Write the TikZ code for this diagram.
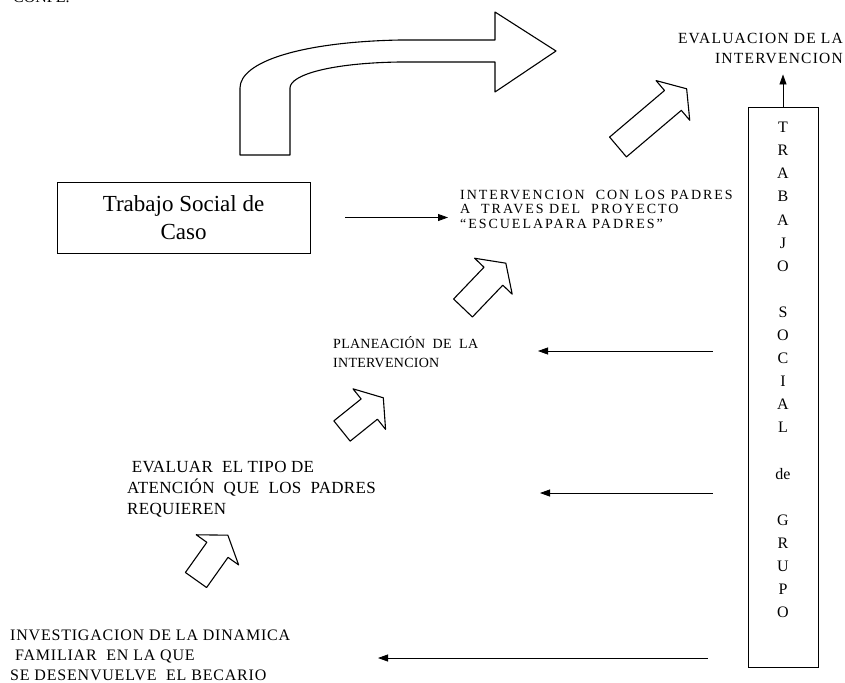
\documentclass[tikz,border=0pt]{standalone}
\usepackage{fontspec}
\setmainfont{Liberation Serif}
\usetikzlibrary{arrows.meta}

\begin{document}
\begin{tikzpicture}[x=1pt, y=-1pt,
    txt/.style={inner sep=0pt, align=left, anchor=west},
    arr/.style={line width=0.8pt, -{Triangle[length=10pt,width=7pt]}},
    hollowline/.style={line width=1.1pt, line join=round},
    pics/hollow/.style={code={
      \draw[hollowline] (0,-13) -- ({#1-18},-13) -- ({#1-18},-26) -- (#1,0)
        -- ({#1-18},26) -- ({#1-18},13) -- (0,13) -- cycle;}}]

    \useasboundingbox (0,0) rectangle (845,682);

    \node[anchor=base west, inner sep=0pt, font=\fontsize{16}{20}\selectfont] (conpe) at (13,3) {CONPE.};

    % big bent arrow
    \draw[hollowline] (240,155) -- (240,88) .. controls (240,62) and (300,42) .. (400,40)
      -- (495,40) -- (495,12) -- (556,51) -- (495,92) -- (495,62) -- (400,62)
      .. controls (330,63) and (290,75) .. (290,88) -- (290,155) -- cycle;

    \node[draw, line width=0.9pt, minimum width=253pt, minimum height=71pt, align=center,
      font=\fontsize{23}{28}\selectfont] (caso) at (183.5,217.5) {Trabajo Social de\\Caso};

    \node[draw, line width=0.9pt, minimum width=70pt, minimum height=560pt] (grupo) at (783,387) {};
    \node[inner sep=0pt, align=center, font=\fontsize{16}{23.1}\selectfont] (grupotxt) at (783,370)
      {T\\R\\A\\B\\A\\J\\O\\~\\S\\O\\C\\I\\A\\L\\~\\de\\~\\G\\R\\U\\P\\O};

    \node[txt, align=right, anchor=east, font=\fontsize{15.5}{20}\selectfont\addfontfeature{LetterSpace=8}]
      (evalint) at (843,48) {EVALUACION DE LA\\INTERVENCION};
    \node[txt, font=\fontsize{14}{14.5}\selectfont\addfontfeature{LetterSpace=14}] (interv) at (460,209)
      {INTERVENCION~ CON LOS PADRES\\A~ TRAVES DEL~ PROYECTO\\“ESCUELAPARA PADRES”};
    \node[txt, font=\fontsize{14}{19}\selectfont\addfontfeature{LetterSpace=2}] (plan) at (333,352)
      {PLANEACIÓN~ DE~ LA\\INTERVENCION};
    \node[txt, font=\fontsize{17}{21}\selectfont\addfontfeature{LetterSpace=2}] (evaltipo) at (127,489)
      {\ EVALUAR~ EL TIPO DE\\ATENCIÓN~ QUE~ LOS~ PADRES\\REQUIEREN};
    \node[txt, font=\fontsize{16}{20}\selectfont\addfontfeature{LetterSpace=5}] (invest) at (10,655)
      {INVESTIGACION DE LA DINAMICA\\\ FAMILIAR~ EN LA QUE\\SE DESENVUELVE~ EL BECARIO};

    % hollow arrows
    \pic[rotate=40.3] at (618,147) {hollow=90};
    \pic[rotate=46.3] at (463,308) {hollow=62};
    \pic[rotate=38.8] at (342,431) {hollow=53};
    \pic[rotate=54.6] at (196,580) {hollow=55};

    \coordinate (t1) at (538,351);
    \coordinate (t2) at (540,493);
    \coordinate (t3) at (378,658);
    \draw[arr, shorten <=35pt] (grupo.west |- t1) -- (t1);
    \draw[arr, shorten <=35pt] (grupo.west |- t2) -- (t2);
    \draw[arr, shorten <=40pt] (grupo.west |- t3) -- (t3);
    \draw[arr, shorten <=35pt, shorten >=12pt] (caso.east) -- (caso.east -| interv.west);
    \draw[arr, shorten >=11pt] (grupo.north) -- (grupo.north |- evalint.south);
    %
\end{tikzpicture}
\end{document}
